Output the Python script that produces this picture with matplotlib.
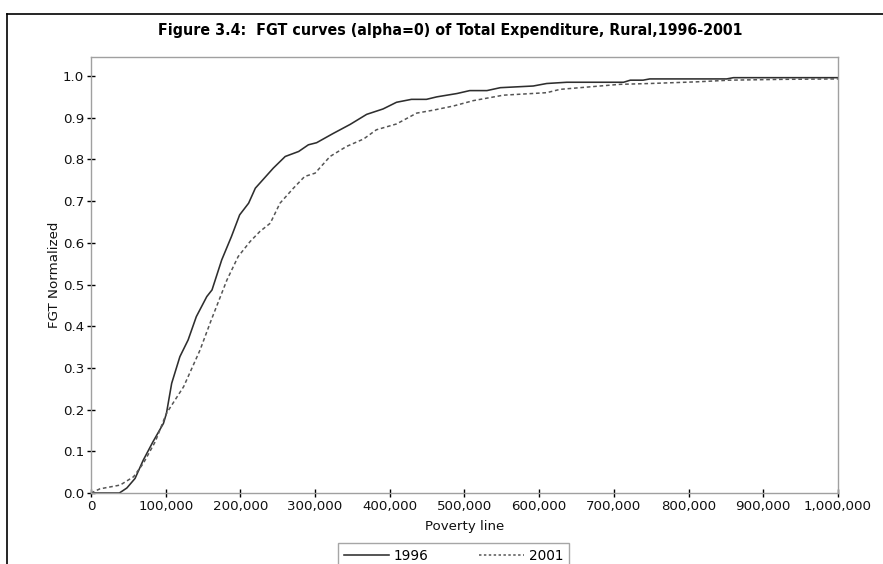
import matplotlib
matplotlib.use("Agg")
import matplotlib.pyplot as plt
from matplotlib.lines import Line2D

# ---- data ----
x1996 = [0, 38000, 48000, 59000, 70000, 83000, 97000, 101000, 108000, 119000, 130000,
         141000, 155000, 162000, 175000, 188000, 199000, 211000, 220000, 228000, 244000,
         260000, 278000, 291000, 302000, 324000, 347000, 369000, 391000, 409000, 429000,
         449000, 463000, 490000, 507000, 530000, 548000, 592000, 610000, 637000, 713000,
         722000, 739000, 748000, 851000, 860000, 1000000]
y1996 = [0.0, 0.0, 0.012, 0.035, 0.079, 0.123, 0.167, 0.191, 0.263, 0.327, 0.367,
         0.423, 0.471, 0.487, 0.559, 0.615, 0.667, 0.695, 0.731, 0.747, 0.779,
         0.807, 0.819, 0.835, 0.840, 0.862, 0.884, 0.908, 0.921, 0.937, 0.944,
         0.944, 0.950, 0.958, 0.965, 0.965, 0.972, 0.976, 0.982, 0.985, 0.985,
         0.990, 0.990, 0.993, 0.993, 0.996, 0.996]

x2001 = [0, 12000, 39000, 57000, 70000, 86000, 101000, 124000, 146000, 161000, 182000,
         197000, 213000, 226000, 240000, 253000, 271000, 286000, 300000, 320000, 342000,
         365000, 382000, 409000, 436000, 458000, 485000, 512000, 552000, 610000, 628000,
         708000, 748000, 811000, 855000, 927000, 1000000]
y2001 = [0.0, 0.010, 0.019, 0.039, 0.071, 0.123, 0.191, 0.255, 0.343, 0.415, 0.511,
         0.567, 0.603, 0.627, 0.647, 0.695, 0.731, 0.759, 0.767, 0.807, 0.831,
         0.849, 0.871, 0.885, 0.911, 0.918, 0.928, 0.941, 0.954, 0.960, 0.968,
         0.980, 0.982, 0.986, 0.990, 0.992, 0.993]

xticks = [0, 100000, 200000, 300000, 400000, 500000, 600000, 700000, 800000, 900000, 1000000]
xticklabels = ["0", "100,000", "200,000", "300,000", "400,000", "500,000", "600,000",
               "700,000", "800,000", "900,000", "1,000,000"]
yticks = [0.0, 0.1, 0.2, 0.3, 0.4, 0.5, 0.6, 0.7, 0.8, 0.9, 1.0]
yticklabels = ["0.0", "0.1", "0.2", "0.3", "0.4", "0.5", "0.6", "0.7", "0.8", "0.9", "1.0"]

title = "Figure 3.4:  FGT curves (alpha=0) of Total Expenditure, Rural,1996-2001"
labels = ["1996", "2001"]

# ---- layout ----
W, H = 883, 564
fig = plt.figure(figsize=(W / 100, H / 100), dpi=100)
fig.patch.set_facecolor("white")

L, R, T, B = 91, 838, 57, 493
ax = fig.add_axes([L / W, 1 - B / H, (R - L) / W, (B - T) / H])
y_per = (493 - 76) / 1.0
ax.set_xlim(0, 1000000)
ax.set_ylim(0, (B - T) / y_per)

tick_font = dict(family=["DejaVu Sans"], size=9.6)

ax.plot(x1996, y1996, color="#2e2e2e", lw=1.15, solid_joinstyle="round")
ax.plot(x2001, y2001, color="#555555", lw=1.1, linestyle=(0, (2.4, 1.8)))

for s in ax.spines.values():
    s.set_color("#a0a0a0")
    s.set_linewidth(1.0)

ax.set_xticks(xticks)
ax.set_xticklabels(xticklabels, **tick_font)
ax.set_yticks(yticks)
ax.set_yticklabels(yticklabels, **tick_font)
ax.tick_params(axis="both", direction="inout", length=6, width=1.0, color="black",
               pad=2, labelcolor="#111111")

ax.set_xlabel("Poverty line", fontdict=tick_font, labelpad=5, color="#111111")
ax.set_ylabel("FGT Normalized", fontdict=tick_font, labelpad=1, color="#111111")

# title
t = fig.text(450 / W, 1 - 31 / H, title, ha="center", va="center",
             family=["Liberation Sans Narrow", "DejaVu Sans"], stretch="condensed",
             weight="bold", size=12)
fig.canvas.draw()
bb = t.get_window_extent()
t.set_fontsize(12 * 582 / bb.width)

# outer frame lines
fig.add_artist(Line2D([7 / W, 7 / W], [0, 1 - 14 / H], transform=fig.transFigure,
                      color="black", lw=1.2))
fig.add_artist(Line2D([7 / W, 1], [1 - 14 / H, 1 - 14 / H], transform=fig.transFigure,
                      color="black", lw=1.2))

# legend
h1 = Line2D([], [], color="#2e2e2e", lw=1.15)
h2 = Line2D([], [], color="#555555", lw=1.1, linestyle=(0, (1.6, 1.6)))
lh = 0.06
leg = fig.legend([h1, h2], labels, loc="upper left",
                 bbox_to_anchor=(338 / W, 1 - 543 / H - lh, (569 - 338) / W, lh),
                 mode="expand", ncol=2, frameon=True, fancybox=False,
                 prop=dict(family="DejaVu Sans", size=9.8),
                 handlelength=3.3, handletextpad=0.35, borderpad=0.42,
                 columnspacing=1.5, borderaxespad=0)
leg.get_frame().set_edgecolor("#909090")
leg.get_frame().set_linewidth(1.0)

fig.savefig("out.png", dpi=100)
